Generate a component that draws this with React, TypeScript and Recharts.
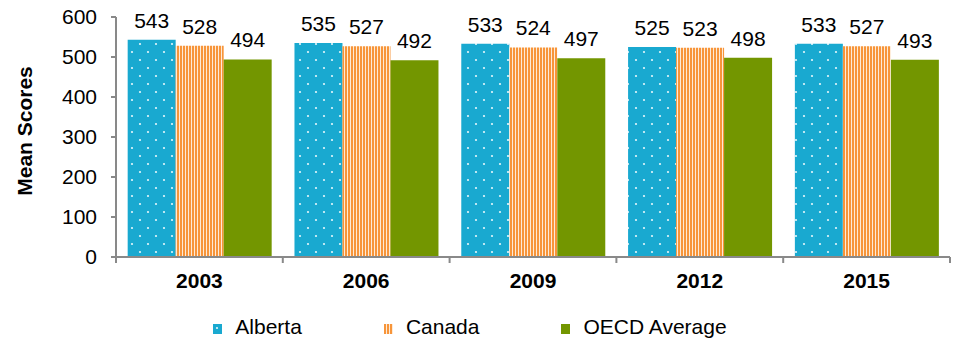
import { Bar, BarChart, LabelList, Legend, XAxis, YAxis, Label } from "recharts";

document.body.style.margin = "0";

const years = ["2003", "2006", "2009", "2012", "2015"];
const alberta = [543, 535, 533, 525, 533];
const canada = [528, 527, 524, 523, 527];
const oecd = [494, 492, 497, 498, 493];
const yTicks = [0, 100, 200, 300, 400, 500, 600];

const AXIS = "#898989";
const FONT = "Arial, 'Liberation Sans', sans-serif";

const data = years.map((year, i) => ({
  year,
  alberta: alberta[i],
  canada: canada[i],
  oecd: oecd[i]
}));

const series = [
  { key: "alberta", name: "Alberta", fill: "url(#albertaDots)" },
  { key: "canada", name: "Canada", fill: "url(#canadaStripes)" },
  { key: "oecd", name: "OECD Average", fill: "#739600" }
];

// year label centred under each group, tick marks on the group boundaries
function YearTick(props: any) {
  const { x, y, payload, index, visibleTicksCount, width } = props;
  const count = visibleTicksCount ?? years.length;
  const band = (width ?? 834) / count;
  const left = x - band / 2;
  const right = x + band / 2;
  return (
    <g>
      <line x1={left} x2={left} y1={y} y2={y + 6} stroke={AXIS} strokeWidth={2} />
      {index === count - 1 && (
        <line x1={right} x2={right} y1={y} y2={y + 6} stroke={AXIS} strokeWidth={2} />
      )}
      <text x={x} y={y + 31} textAnchor="middle" fontWeight="bold" fontSize={21} fill="#000">
        {payload.value}
      </text>
    </g>
  );
}

function LegendRow() {
  return (
    <div
      style={{
        height: 40,
        boxSizing: "border-box",
        paddingTop: 20,
        display: "flex",
        justifyContent: "center",
        alignItems: "center",
        gap: 82,
        fontFamily: FONT,
        fontSize: 21,
        color: "#000",
        paddingRight: 10
      }}
    >
      {series.map((s) => (
        <div key={s.key} style={{ display: "flex", alignItems: "center" }}>
          <svg width={9} height={10} style={{ marginRight: 13, marginTop: 4 }}>
            <rect width={9} height={10} fill={s.fill} />
          </svg>
          <span>{s.name}</span>
        </div>
      ))}
    </div>
  );
}

export default function App() {
  return (
    <div style={{ width: 958, height: 343, fontFamily: FONT, background: "#fff" }}>
      <BarChart
        width={958}
        height={343}
        data={data}
        margin={{ top: 17, right: 8, bottom: 6, left: 0 }}
        barCategoryGap="7%"
        barGap={0}
      >
        <defs>
          <pattern id="albertaDots" patternUnits="userSpaceOnUse" width={16} height={16}>
            <rect width={16} height={16} fill="#19A9D0" />
            <circle cx={4} cy={4} r={1.1} fill="#E4F6FB" />
            <circle cx={12} cy={12} r={1.1} fill="#E4F6FB" />
          </pattern>
          <pattern id="canadaStripes" patternUnits="userSpaceOnUse" width={3} height={3}>
            <rect width={3} height={3} fill="#FEEAD6" />
            <rect width={2} height={3} fill="#F7953A" />
          </pattern>
        </defs>
        <YAxis
          width={116}
          domain={[0, 600]}
          ticks={yTicks}
          interval={0}
          stroke={AXIS}
          strokeWidth={2}
          tickSize={5}
          tickMargin={14}
          tick={{ fill: "#000", fontSize: 21 }}
        >
          <Label
            content={({ viewBox }: any) => {
              const cx = viewBox.x + 24;
              const cy = viewBox.y + viewBox.height / 2 - 6;
              return (
                <text
                  x={cx}
                  y={cy}
                  transform={`rotate(-90 ${cx} ${cy})`}
                  textAnchor="middle"
                  dominantBaseline="central"
                  fontWeight="bold"
                  fontSize={21}
                  fill="#000"
                >
                  Mean Scores
                </text>
              );
            }}
          />
        </YAxis>
        <XAxis
          dataKey="year"
          height={40}
          stroke={AXIS}
          strokeWidth={2}
          tickLine={false}
          tickSize={0}
          tickMargin={0}
          interval={0}
          tick={<YearTick />}
        />
        <Legend verticalAlign="bottom" content={() => <LegendRow />} />
        {series.map((s) => (
          <Bar key={s.key} dataKey={s.key} name={s.name} fill={s.fill} isAnimationActive={false}>
            <LabelList dataKey={s.key} position="top" offset={12} fill="#000" fontSize={21} />
          </Bar>
        ))}
      </BarChart>
    </div>
  );
}
